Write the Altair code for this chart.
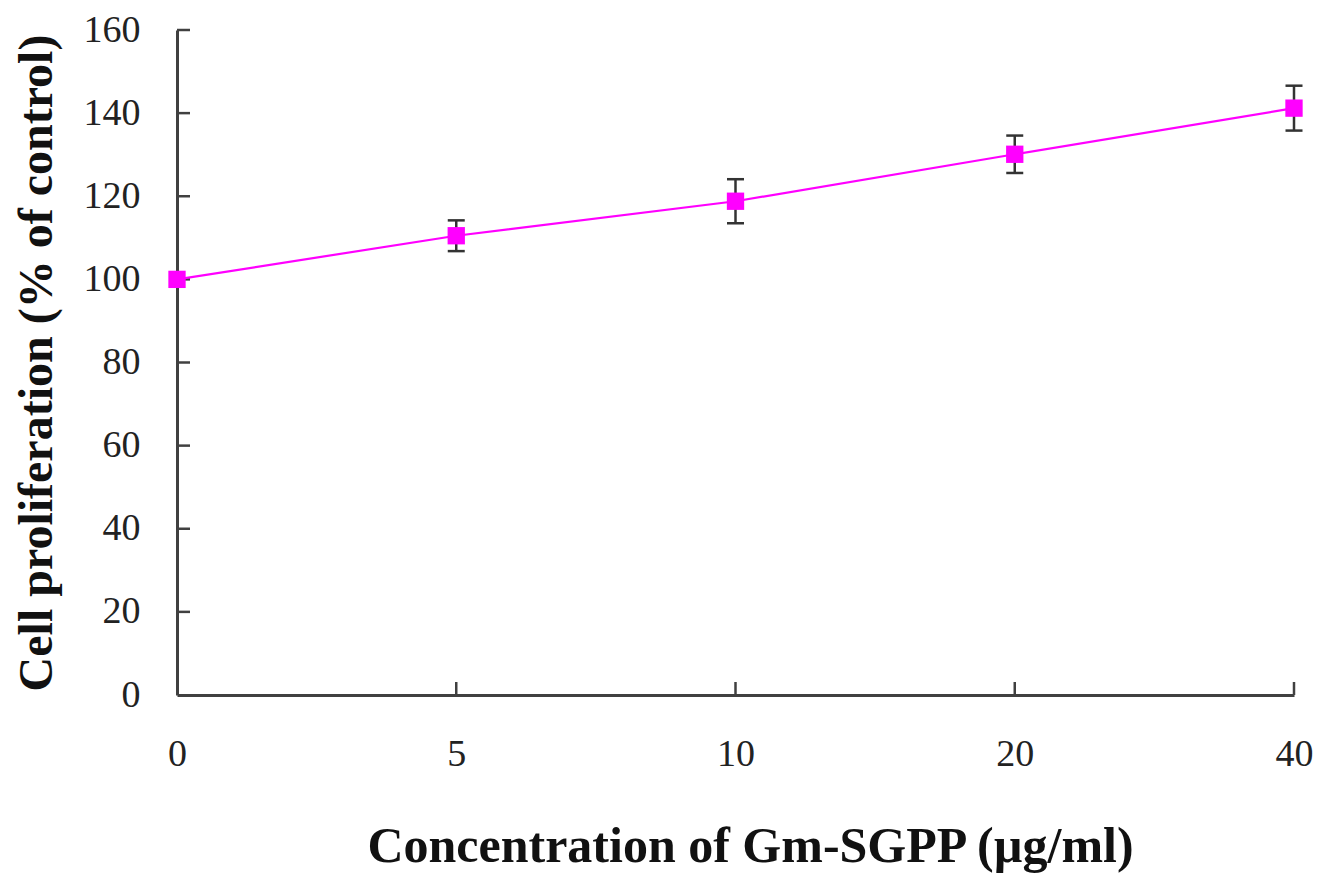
import altair as alt
import pandas as pd

conc = ["0", "5", "10", "20", "40"]
mean = [100.0, 110.5, 118.8, 130.1, 141.2]
sd = [0.0, 3.7, 5.3, 4.5, 5.4]
y_ticks = [20, 40, 60, 80, 100, 120, 140, 160]
x_ticks = ["5", "10", "20", "40"]

df = pd.DataFrame({"conc": conc, "mean": mean, "sd": sd})
df["lo"] = df["mean"] - df["sd"]
df["hi"] = df["mean"] + df["sd"]

W, H = 1117, 665
FONT = "Liberation Serif"
AX = "#404040"

xs = alt.Scale(type="point", domain=conc, padding=0)
ys = alt.Scale(domain=[0, 160], nice=False, zero=True)

xaxis = alt.Axis(
    title="Concentration of Gm-SGPP (µg/ml)", labelAngle=0, ticks=False,
    labelPadding=40, labelFontSize=38, labelFont=FONT, labelColor="#222",
    titleFont=FONT, titleFontSize=50, titleFontWeight="bold", titleColor="#111",
    titleX=573, titleY=166, titleBaseline="alphabetic", titleAlign="center",
    domainColor=AX, domainWidth=3, grid=False,
)
yaxis = alt.Axis(
    title="Cell proliferation (% of control)", ticks=False, values=[0] + y_ticks,
    labelPadding=37, labelFontSize=38, labelFont=FONT, labelColor="#222",
    titleFont=FONT, titleFontSize=48, titleFontWeight="bold", titleColor="#111",
    titleX=-126, titleBaseline="alphabetic",
    domainColor=AX, domainWidth=3, grid=False,
)

X = alt.X("conc:N", scale=xs, axis=xaxis)
base = alt.Chart(df)

ytick_layer = alt.Chart(pd.DataFrame({"t": y_ticks})).mark_rule(
    color=AX, strokeWidth=2.5
).encode(
    y=alt.Y("t:Q", scale=ys, axis=yaxis), x=alt.value(0), x2=alt.value(13)
)
xtick_layer = alt.Chart(pd.DataFrame({"conc": x_ticks})).mark_rule(
    color=AX, strokeWidth=2.5
).encode(
    x=X, y=alt.value(H), y2=alt.value(H - 13)
)

err = base.transform_filter("datum.sd > 0").mark_rule(
    color="#333", strokeWidth=2.5
).encode(
    x=X, y=alt.Y("lo:Q", scale=ys, axis=yaxis), y2="hi:Q"
)
caps = base.transform_filter("datum.sd > 0").transform_fold(
    ["lo", "hi"], as_=["k", "v"]
).mark_tick(color="#333", size=17, thickness=2.5, opacity=1).encode(
    x=X, y=alt.Y("v:Q", scale=ys, axis=yaxis)
)
line = base.mark_line(color="#FF00FF", strokeWidth=2.2).encode(
    x=X, y=alt.Y("mean:Q", scale=ys, axis=yaxis)
)
pts = base.mark_square(color="#FF00FF", size=300, opacity=1).encode(
    x=X, y=alt.Y("mean:Q", scale=ys, axis=yaxis)
)

chart = alt.layer(ytick_layer, xtick_layer, err, caps, line, pts).properties(
    width=W, height=H,
    padding={"left": 169, "top": 22, "right": 30, "bottom": 180},
    autosize=alt.AutoSizeParams(type="none"),
).configure_view(stroke=None)

chart.save("out.html", embed_options={"renderer": "svg", "actions": False})
